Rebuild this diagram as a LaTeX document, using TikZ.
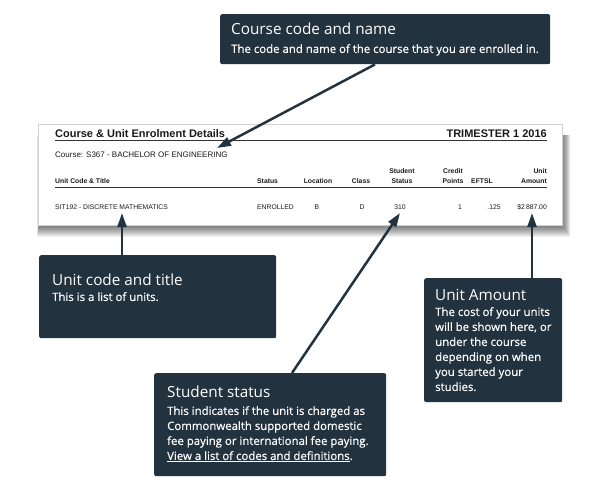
\documentclass[tikz,border=0pt]{standalone}
\usepackage{fontspec}
\setmainfont{Open Sans}
\newfontfamily\bodyfont[FakeBold=0.5]{Open Sans}
\newfontfamily\docfont{Liberation Sans}
\usetikzlibrary{arrows.meta}
\definecolor{boxc}{HTML}{22323F}
\definecolor{rulec}{HTML}{333333}
\definecolor{doctext}{HTML}{1A1A1A}
\begin{document}
\begin{tikzpicture}[x=1pt,y=-1pt,
 box/.style={fill=boxc, rounded corners=2pt, draw=none, inner sep=0, anchor=north west},
 ttl/.style={text=white, font=\fontsize{15.3}{17}\selectfont, inner sep=0, anchor=base west},
 bodytxt/.style={text=white, font=\bodyfont\fontsize{11.4}{15}\selectfont, inner sep=0, anchor=north west, align=left},
 arr/.style={draw=boxc, line width=2.5pt, -{Triangle[length=14pt,width=9pt]}},
 dtitle/.style={text=doctext, font=\docfont\bfseries\fontsize{11}{13}\selectfont, inner sep=0},
 dline/.style={text=doctext, font=\docfont\fontsize{8}{10}\selectfont, inner sep=0, anchor=base west},
 dhead/.style={text=doctext, font=\docfont\bfseries\fontsize{6.8}{8}\selectfont, inner sep=0, anchor=base},
 drow/.style={text=doctext, font=\docfont\fontsize{6.8}{8}\selectfont, inner sep=0, anchor=base},
]
\useasboundingbox (0,0) rectangle (600,495);
\fill[white] (0,0) rectangle (600,495);
% shadow of the document panel
\foreach \i in {1,...,12} \fill[black,opacity=0.055] (39-0.15*\i,135) rectangle (562+0.7*\i,225+\i);
\node[draw=black!18, fill=white, line width=0.6pt, minimum width=524pt, minimum height=101pt, inner sep=0, anchor=north west] (panel) at (38,124) {};
% document contents
\node[dtitle, anchor=base west] (dtitle) at (55,137) {Course \& Unit Enrolment Details};
\node[dtitle, anchor=base east] (dterm) at (547,137) {TRIMESTER 1 2016};
\draw[rulec, line width=1pt] (55,140) -- (547,140);
\node[dline] (dcourse) at (55,157) {Course: S367 - BACHELOR OF ENGINEERING};
\node[dhead, anchor=base west] (hunit) at (55,183) {Unit Code \& Title};
\node[dhead, anchor=base west] (hstatus) at (257,183) {Status};
\node[dhead] (hloc) at (318,183) {Location};
\node[dhead] (hclass) at (361,183) {Class};
\node[dhead] (hss1) at (402,173) {Student};
\node[dhead] (hss2) at (402,183) {Status};
\node[dhead] (hcp1) at (453,173) {Credit};
\node[dhead] (hcp2) at (453,183) {Points};
\node[dhead] (heft) at (482,183) {EFTSL};
\node[dhead, anchor=base east] (hua1) at (547,173) {Unit};
\node[dhead, anchor=base east] (hua2) at (547,183) {Amount};
\draw[rulec, line width=0.9pt] (55,187) -- (547,187);
\node[drow, anchor=base west] (runit) at (55,209) {SIT192 - DISCRETE MATHEMATICS};
\node[drow, anchor=base west] (rstatus) at (257,209) {ENROLLED};
\node[drow] (rloc) at (317,209) {B};
\node[drow] (rclass) at (362,209) {D};
\node[drow] (rss) at (400,209) {310};
\node[drow] (rcp) at (460,209) {1};
\node[drow] (reft) at (494,209) {.125};
\node[drow, anchor=base east] (rua) at (547,209) {\$2\,887.00};
% arrow targets
\coordinate (tcourse) at (217,148);
\coordinate (tunit) at (122,213);
\coordinate (tstatus) at (400,213);
\coordinate (tamount) at (532,213);
% callout boxes
\node[box, minimum width=330pt, minimum height=50pt] (course) at (220,14) {};
\node[box, minimum width=237pt, minimum height=83pt] (unit) at (39,255) {};
\node[box, minimum width=138pt, minimum height=124pt] (amount) at (424,278) {};
\node[box, minimum width=232pt, minimum height=103pt] (status) at (154,373) {};
% connectors
\draw[arr] ([xshift=155pt]course.south west) -- (tcourse);
\draw[arr] ([xshift=83pt]unit.north west) -- (tunit);
\draw[arr] ([xshift=108pt]amount.north west) -- (tamount);
\draw[arr] ([xshift=138pt]status.north west) -- (tstatus);
% callout texts
\node[ttl] (courset) at (231,35) {Course code and name};
\node[bodytxt] (courseb) at (231,44) {The code and name of the course that you are enrolled in.};
\node[ttl] (unitt) at (52,285) {Unit code and title};
\node[bodytxt] (unitb) at (52,292) {This is a list of units.};
\node[ttl] (amountt) at (435,300) {Unit Amount};
\node[bodytxt] (amountb) at (435,307) {The cost of your units\\will be shown here, or\\under the course\\depending on when\\you started your\\studies.};
\node[ttl] (statust) at (167,397) {Student status};
\node[bodytxt] (statusb) at (167,406) {This indicates if the unit is charged as\\Commonwealth supported domestic\\fee paying or international fee paying.\\\underline{View a list of codes and definitions}.};
\end{tikzpicture}
\end{document}
